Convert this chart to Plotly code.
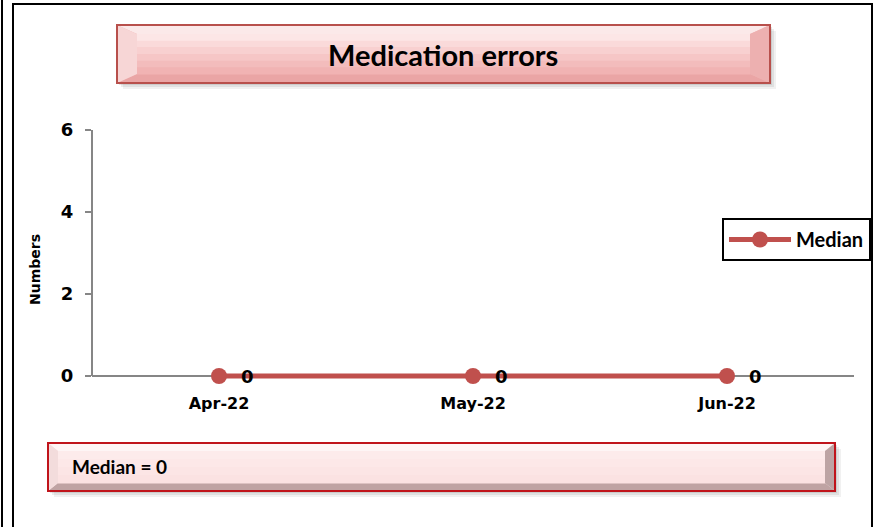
import plotly.graph_objects as go

months = ["Apr-22", "May-22", "Jun-22"]
median = [0, 0, 0]
y_ticks = [0, 2, 4, 6]
series_name = "Median"
title_text = "Medication errors"
note_text = "Median = 0"
y_title = "Numbers"

C_LINE = "#C0504D"
C_AXIS = "#868686"
C_TEXT = "#000000"
F_TICK = "DejaVu Sans"
F_BOX = "Lato, Carlito, sans-serif"

W, H = 877, 527
# plot area: y=0 sits at 376px, y=6 at 130px; bottom padded 4px so the thick line isn't clipped
L, R, T, B = 92, 23, 130, 147
PW, PH = W - L - R, H - T - B
Y_PAD = 6 * 4 / 246


def px(x):
    return (x - L) / PW


def py(y):
    return (H - B - y) / PH


def poly(pts, fill):
    d = "M " + " L ".join(f"{px(a):.5f} {py(b):.5f}" for a, b in pts) + " Z"
    return dict(type="path", xref="paper", yref="paper", path=d, fillcolor=fill,
                line=dict(width=0), layer="below")


def rect(x0, y0, x1, y1, fill=None, line_w=0, line_c=None):
    return dict(type="rect", xref="paper", yref="paper",
                x0=px(x0), x1=px(x1), y0=py(y1), y1=py(y0),
                fillcolor=fill or "rgba(0,0,0,0)",
                line=dict(width=line_w, color=line_c or "rgba(0,0,0,0)"), layer="below")


def bevel_box(x0, y0, x1, y1, bx, by, face, top, bottom, left, right, edge, edge_w):
    out = []
    # soft drop shadow
    for i, a in enumerate([0.08, 0.10, 0.14]):
        o = 6 - i * 2
        out.append(rect(x0 + o, y0 + o, x1 + o, y1 + o, fill=f"rgba(80,80,80,{a})"))
    out.append(rect(x0, y0, x1, y1, fill=face[-1]))
    out.append(poly([(x0, y0), (x1, y0), (x1 - bx, y0 + by), (x0 + bx, y0 + by)], top))
    out.append(poly([(x0, y1), (x1, y1), (x1 - bx, y1 - by), (x0 + bx, y1 - by)], bottom))
    out.append(poly([(x0, y0), (x0 + bx, y0 + by), (x0 + bx, y1 - by), (x0, y1)], left))
    out.append(poly([(x1, y0), (x1 - bx, y0 + by), (x1 - bx, y1 - by), (x1, y1)], right))
    # vertical gradient on the face
    n = len(face)
    h = (y1 - by) - (y0 + by)
    for i, c in enumerate(face):
        out.append(rect(x0 + bx, y0 + by + h * i / n, x1 - bx, y0 + by + h * (i + 1) / n + 0.5, fill=c))
    out.append(rect(x0, y0, x1, y1, line_w=edge_w, line_c=edge))
    return out


shapes = []
# outer frames
shapes.append(dict(type="line", xref="paper", yref="paper", x0=px(2), x1=px(2), y0=py(0), y1=py(H),
                   line=dict(color="#000000", width=2), layer="below"))
shapes.append(rect(13, 4, 872, H + 10, line_w=2, line_c="#000000"))
# y axis line, stopping at zero like the original
shapes.append(dict(type="line", xref="paper", yref="y", x0=0, x1=0, y0=0, y1=y_ticks[-1],
                   line=dict(color=C_AXIS, width=2), layer="below"))

# title box
shapes += bevel_box(117, 25, 770, 83, 20, 9,
                    face=["#FCE6E6", "#FADADA", "#F8D0D0", "#F6C6C6", "#F3BCBC", "#F1B3B3"],
                    top="#FBE9E9", bottom="#EAA5A5", left="#F7D6D6", right="#EDB0B0",
                    edge="#B8504C", edge_w=2)
# note box
shapes += bevel_box(48, 443, 835, 491, 10, 8,
                    face=["#FDEBEB", "#FDE8E8", "#FCE5E5", "#FBE2E2"],
                    top="#FEF5F5", bottom="#BFA3A3", left="#F3DCDC", right="#BDA4A4",
                    edge="#C0141B", edge_w=2)

fig = go.Figure(go.Scatter(
    x=months, y=median, name=series_name, mode="lines+markers",
    line=dict(color=C_LINE, width=5),
    marker=dict(color=C_LINE, size=16),
    cliponaxis=False,
))

for m, v in zip(months, median):
    fig.add_annotation(x=m, y=v, text=str(v), showarrow=False, xshift=28,
                       font=dict(family=F_TICK, size=18, color=C_TEXT, weight="bold"))

fig.add_annotation(xref="paper", yref="paper", x=px(443), y=py(55), xanchor="center",
                   yanchor="middle", text=title_text, showarrow=False,
                   font=dict(family=F_BOX, size=29, color=C_TEXT, weight="bold"))
fig.add_annotation(xref="paper", yref="paper", x=px(70), y=py(467), xanchor="left",
                   yanchor="middle", text=note_text, showarrow=False,
                   font=dict(family=F_BOX, size=19, color=C_TEXT, weight="bold"))
fig.add_annotation(xref="paper", yref="paper", x=px(35), y=py(269), xanchor="center",
                   yanchor="middle", text=y_title, textangle=-90, showarrow=False,
                   font=dict(family=F_TICK, size=14, color=C_TEXT, weight="bold"))

fig.update_layout(
    width=W, height=H, margin=dict(l=L, r=R, t=T, b=B, autoexpand=False),
    paper_bgcolor="#FFFFFF", plot_bgcolor="#FFFFFF",
    shapes=shapes,
    showlegend=True,
    legend=dict(xref="container", yref="container", x=722 / W, y=1 - 218 / H,
                xanchor="left", yanchor="top",
                bgcolor="#FFFFFF", bordercolor="#000000", borderwidth=2, itemwidth=62,
                font=dict(family=F_BOX, size=20, color=C_TEXT, weight="bold")),
    xaxis=dict(range=[-0.5, 2.5], showline=False, showgrid=False, zeroline=False,
               ticks="", ticklabelstandoff=12,
               tickfont=dict(family=F_TICK, size=16, color=C_TEXT, weight="bold")),
    yaxis=dict(range=[-Y_PAD, y_ticks[-1]], tickvals=y_ticks, showline=False,
               showgrid=False, zeroline=True, zerolinecolor=C_AXIS, zerolinewidth=2,
               ticks="outside", ticklen=6, tickcolor=C_AXIS, tickwidth=2, ticklabelstandoff=8,
               tickfont=dict(family=F_TICK, size=18, color=C_TEXT, weight="bold")),
)

fig.write_html("out.html", config={"displayModeBar": False},
               post_script="document.body.style.margin='0';document.body.style.overflow='hidden';")
